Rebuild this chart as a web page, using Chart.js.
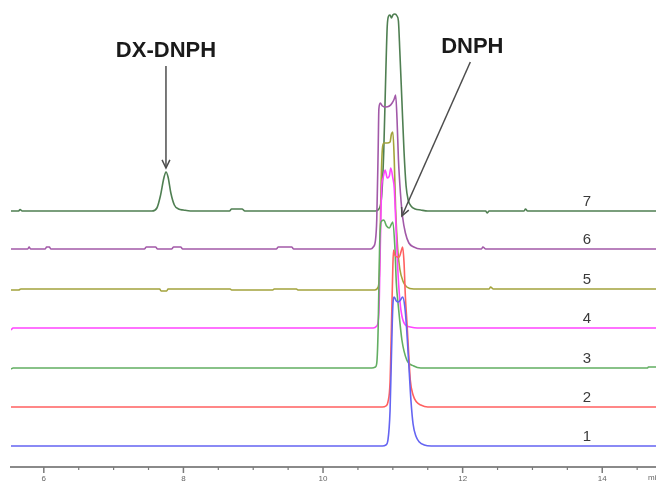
<!DOCTYPE html>
<html>
<head>
<meta charset="utf-8">
<script src="https://cdn.jsdelivr.net/npm/chart.js@4"></script>
<style>
  body { margin: 0; background: #fff; }
  #wrap { width: 656px; height: 484px; }
</style>
</head>
<body>
<div id="wrap"><canvas id="chromatogram" width="656" height="484"></canvas></div>
<script>
// retention time (min) / signal pairs, one list per run (1 = bottom trace)
const trace1 = [[5.53,0],[10.85,0],[10.9,1],[10.93,6],[10.96,35],[10.98,90],[11.0,140],[11.02,149],[11.05,145],[11.08,144],[11.11,146],[11.14,149],[11.17,140],[11.2,115],[11.23,80],[11.26,45],[11.29,22],[11.33,10],[11.38,4],[11.45,1],[11.55,0],[14.77,0]]
const trace2 = [[5.53,0],[10.85,0],[10.9,1],[10.93,5],[10.96,25],[10.98,80],[11.0,140],[11.01,157],[11.03,152],[11.06,150],[11.09,150],[11.12,156],[11.14,160],[11.16,145],[11.18,110],[11.2,87],[11.23,50],[11.25,27],[11.29,12],[11.34,5],[11.4,2],[11.5,0],[14.77,0]]
const trace3 = [[5.53,-1],[5.56,0],[10.7,0],[10.75,1],[10.77,5],[10.79,40],[10.81,120],[10.83,146],[10.87,148],[10.91,142],[10.95,140],[10.98,144],[11.0,146],[11.03,120],[11.05,85],[11.08,61],[11.13,28],[11.2,8],[11.3,2],[11.4,0],[14.65,0],[14.66,1],[14.77,1]]
const trace4 = [[5.53,-2],[5.56,0],[10.72,0],[10.77,2],[10.8,15],[10.82,80],[10.84,140],[10.86,150],[10.89,158],[10.92,150],[10.95,152],[10.97,160],[11.0,150],[11.02,140],[11.04,110],[11.07,60],[11.1,28],[11.13,12],[11.18,3],[11.25,1],[11.35,0],[14.77,0]]
const trace5 = [[5.53,-1],[5.64,-1],[5.67,0],[7.66,0],[7.68,-2],[7.76,-2],[7.78,0],[8.67,0],[8.69,-1],[9.28,-1],[9.3,0],[9.62,0],[9.64,-1],[10.74,-1],[10.79,2],[10.81,20],[10.83,100],[10.85,140],[10.87,146],[10.92,146],[10.96,147],[10.98,155],[11.0,157],[11.02,130],[11.04,80],[11.07,40],[11.1,20],[11.15,7],[11.2,2],[11.3,0],[12.38,0],[12.4,2],[12.44,0],[14.77,0]]
const trace6 = [[5.53,0],[5.77,0],[5.79,2],[5.81,0],[6.02,0],[6.04,2],[6.08,2],[6.1,0],[7.44,0],[7.47,2],[7.6,2],[7.63,0],[7.83,0],[7.86,2],[7.96,2],[7.99,0],[9.33,0],[9.36,2],[9.55,2],[9.58,0],[10.68,0],[10.72,2],[10.75,8],[10.77,30],[10.79,100],[10.8,140],[10.82,146],[10.85,143],[10.9,142],[10.95,143],[10.99,146],[11.02,150],[11.04,154],[11.06,130],[11.08,90],[11.11,55],[11.14,32],[11.18,16],[11.23,6],[11.3,2],[11.4,0],[12.27,0],[12.29,2],[12.33,0],[14.77,0]]
const trace7 = [[5.53,0],[5.64,0],[5.66,1.5],[5.69,0],[7.55,0],[7.62,3],[7.67,15],[7.72,33],[7.75,39],[7.78,34],[7.82,18],[7.87,6],[7.93,2],[8.0,1],[8.1,0],[8.66,0],[8.69,2],[8.84,2],[8.88,0],[10.75,0],[10.8,2],[10.84,15],[10.87,60],[10.9,140],[10.92,185],[10.94,195],[10.96,196],[10.98,193],[11.0,196],[11.03,197],[11.06,195],[11.08,190],[11.1,160],[11.13,110],[11.16,60],[11.19,25],[11.22,11],[11.26,5],[11.32,2],[11.4,1],[11.5,0],[12.33,0],[12.35,-2],[12.38,0],[12.88,0],[12.9,2],[12.93,0],[14.77,0]]

const traces = [trace1, trace2, trace3, trace4, trace5, trace6, trace7]
const runLabels = ['1', '2', '3', '4', '5', '6', '7']
const xTicks = [6, 8, 10, 12, 14]
const axisUnit = 'min'

// peak annotations: text, arrow tip (time, signal on the stacked scale), arrow tail
const peakNames = ['DX-DNPH', 'DNPH']
const arrowTips = [[7.75, 299], [11.13, 251]]
const arrowTails = [[7.75, 401], [12.11, 405]]

const offsets = [21, 60, 99, 139, 178, 218, 256]
const colors = ['#6464f2', '#ff6060', '#62ae62', '#ff44ff', '#a3a33c', '#a259a8', '#4f7f52']

const overlay = {
  id: 'overlay',
  afterDraw(chart) {
    const { ctx, scales: { x, y } } = chart
    ctx.save()

    // axis ticks, long for labelled values
    ctx.strokeStyle = '#7a7a7a'
    x.ticks.forEach(t => {
      const px = x.getPixelForValue(t.value)
      const major = xTicks.includes(t.value)
      ctx.lineWidth = major ? 1.5 : 1.2
      ctx.beginPath()
      ctx.moveTo(px, x.top)
      ctx.lineTo(px, x.top + (major ? 6 : 3))
      ctx.stroke()
    })
    ctx.fillStyle = '#666'
    ctx.font = '8px "Liberation Sans", Arial, sans-serif'
    ctx.textAlign = 'left'
    ctx.textBaseline = 'middle'
    ctx.fillText(axisUnit, 648, 478)

    // run numbers above each baseline
    ctx.fillStyle = '#3a3a3a'
    ctx.font = '15px "Liberation Sans", Arial, sans-serif'
    ctx.textAlign = 'center'
    ctx.textBaseline = 'alphabetic'
    runLabels.forEach((lab, i) => {
      ctx.fillText(lab, x.getPixelForValue(13.78), y.getPixelForValue(offsets[i]) - 5)
    })

    // peak names with arrows
    ctx.font = 'bold 22px "Liberation Sans", Arial, sans-serif'
    ctx.textBaseline = 'middle'
    ctx.fillStyle = '#1a1a1a'
    peakNames.forEach((name, i) => {
      const tx = x.getPixelForValue(arrowTails[i][0])
      const ty = y.getPixelForValue(arrowTails[i][1])
      const hx = x.getPixelForValue(arrowTips[i][0])
      const hy = y.getPixelForValue(arrowTips[i][1])
      const labelX = i === 0 ? tx : tx + 2
      ctx.fillText(name, labelX, ty - 15)

      ctx.strokeStyle = '#4d4d4d'
      ctx.lineWidth = 1.5
      ctx.beginPath()
      ctx.moveTo(tx, ty)
      ctx.lineTo(hx, hy)
      ctx.stroke()
      const ang = Math.atan2(hy - ty, hx - tx)
      ctx.beginPath()
      ctx.moveTo(hx - 9 * Math.cos(ang - 0.45), hy - 9 * Math.sin(ang - 0.45))
      ctx.lineTo(hx, hy)
      ctx.lineTo(hx - 9 * Math.cos(ang + 0.45), hy - 9 * Math.sin(ang + 0.45))
      ctx.stroke()
    })
    ctx.restore()
  }
}

new Chart(document.getElementById('chromatogram'), {
  type: 'line',
  data: {
    datasets: traces.map((tr, i) => ({
      label: runLabels[i],
      data: tr.map(p => ({ x: p[0], y: p[1] + offsets[i] })),
      borderColor: colors[i],
      borderWidth: 1.6,
      pointRadius: 0,
      cubicInterpolationMode: 'monotone',
      fill: false
    }))
  },
  options: {
    responsive: false,
    animation: false,
    layout: { padding: { left: 11, right: 0, top: 0, bottom: 0 } },
    plugins: { legend: { display: false }, tooltip: { enabled: false } },
    scales: {
      x: {
        type: 'linear',
        min: 5.53,
        max: 14.77,
        afterFit: s => { s.height = 17 },
        border: { color: '#8a8a8a', width: 2 },
        grid: { drawOnChartArea: false, drawTicks: false },
        ticks: {
          stepSize: 0.5,
          includeBounds: false,
          autoSkip: false,
          maxRotation: 0,
          padding: 7,
          color: '#666',
          font: { size: 8, family: '"Liberation Sans", Arial, sans-serif' },
          callback: v => xTicks.includes(v) ? String(v) : ''
        }
      },
      y: { display: false, min: 0, max: 467 }
    }
  },
  plugins: [overlay]
})
</script>
</body>
</html>
